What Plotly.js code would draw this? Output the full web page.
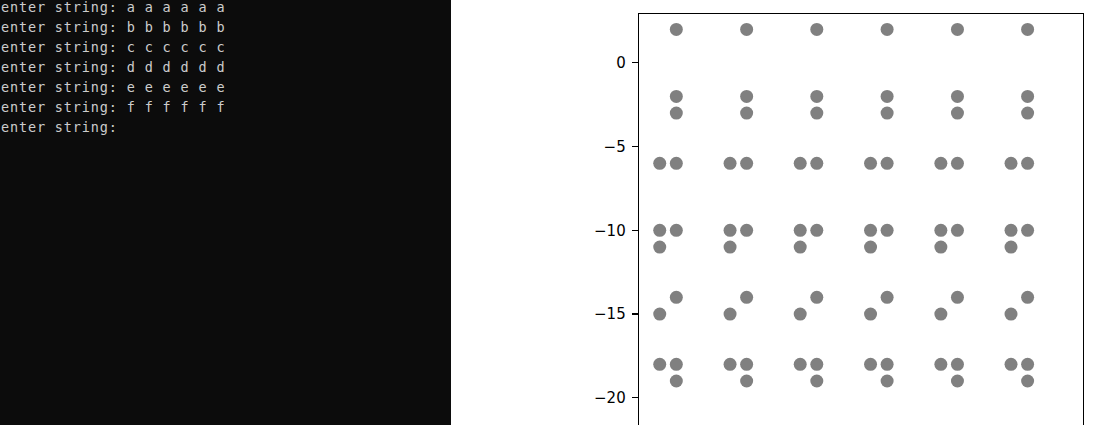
<!DOCTYPE html>
<html>
<head>
<meta charset="utf-8">
<script src="https://cdn.plot.ly/plotly-3.0.1.min.js"></script>
<style>
  html, body { margin: 0; padding: 0; width: 1099px; height: 425px; overflow: hidden; background: #ffffff; }
  #term { position: absolute; left: 0; top: 0; width: 451px; height: 425px; background: #0c0c0c; overflow: hidden; }
  #term pre { position: absolute; left: 1px; top: -3px; margin: 0; color: #cccccc;
              font-family: "DejaVu Sans Mono", monospace; font-size: 13.5px; line-height: 20px; letter-spacing: 0.85px; }
  #chart { position: absolute; left: 451px; top: 0; width: 648px; height: 469px; }
</style>
</head>
<body>
<div id="term"><pre id="termtext"></pre></div>
<div id="chart"></div>
<script>
// Terminal lines shown beside the chart
const promptText = "enter string:";
const inputLetters = ["a", "b", "c", "d", "e", "f"];
const repeatCount = 6;

// Scatter data (x of the left / right dot column of each cell)
const cellLeftX = [0, 4.24, 8.47, 12.71, 16.95, 21.18];
const cellRightX = [1, 5.24, 9.47, 13.71, 17.95, 22.18];
// y values of dots in the left and right column of every cell
const leftColumnY = [-6, -10, -11, -15, -18];
const rightColumnY = [2, -2, -3, -6, -10, -14, -18, -19];
const yTickVals = [0, -5, -10, -15, -20];
const yTickText = ["0", "\u22125", "\u221210", "\u221215", "\u221220"];

// terminal text
const lines = inputLetters.map(l => promptText + " " + Array(repeatCount).fill(l).join(" "));
lines.push(promptText);
document.getElementById("termtext").textContent = lines.join("\n");

const xs = [], ys = [];
for (let i = 0; i < cellLeftX.length; i++) {
  leftColumnY.forEach(y => { xs.push(cellLeftX[i]); ys.push(y); });
  rightColumnY.forEach(y => { xs.push(cellRightX[i]); ys.push(y); });
}

const trace = {
  type: "scatter", mode: "markers", x: xs, y: ys,
  marker: { color: "#808080", size: 13, line: { width: 0 } },
  hoverinfo: "skip", showlegend: false
};

const layout = {
  width: 648, height: 469,
  margin: { l: 188, r: 16, t: 14, b: 21, pad: 0 },
  paper_bgcolor: "#ffffff", plot_bgcolor: "#ffffff",
  font: { family: "DejaVu Sans", size: 15, color: "#000000" },
  xaxis: { range: [-1.25, 25.52], showgrid: false, zeroline: false, showline: true, linecolor: "#000000",
           linewidth: 1.3, mirror: true, showticklabels: false, ticks: "" },
  yaxis: { range: [-23, 2.92], showgrid: false, zeroline: false, showline: true, linecolor: "#000000",
           linewidth: 1.3, mirror: true, ticks: "outside", ticklen: 6, tickwidth: 1.2, tickcolor: "#000000",
           tickvals: yTickVals, ticktext: yTickText, ticklabelstandoff: 3 }
};

Plotly.newPlot("chart", [trace], layout, { staticPlot: true, displayModeBar: false });
</script>
</body>
</html>
